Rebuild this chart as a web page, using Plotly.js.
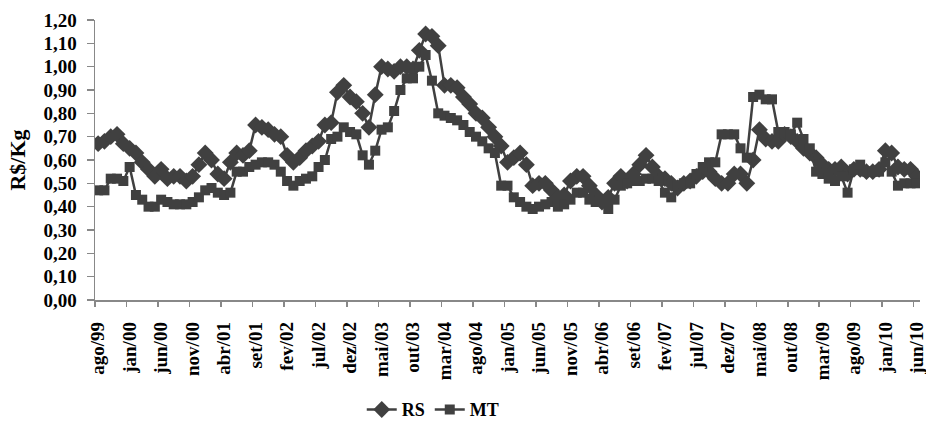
<!DOCTYPE html>
<html>
<head>
<meta charset="utf-8">
<script src="https://cdn.plot.ly/plotly-3.0.1.min.js"></script>
<style>html,body{margin:0;padding:0;background:#fff;}#chart{width:926px;height:425px;}</style>
</head>
<body>
<div id="chart"></div>
<script>
const tickLabels = ["ago/99","jan/00","jun/00","nov/00","abr/01","set/01","fev/02","jul/02","dez/02","mai/03","out/03","mar/04","ago/04","jan/05","jun/05","nov/05","abr/06","set/06","fev/07","jul/07","dez/07","mai/08","out/08","mar/09","ago/09","jan/10","jun/10"];

const rs = [
0.67,0.68,0.70,0.71,0.67,0.65,0.63,0.59,0.56,0.53,
0.56,0.52,0.53,0.53,0.51,0.53,0.58,0.63,0.60,0.54,
0.52,0.59,0.63,0.62,0.64,0.75,0.74,0.73,0.71,0.70,
0.62,0.59,0.61,0.64,0.66,0.68,0.75,0.76,0.89,0.92,
0.87,0.85,0.80,0.74,0.88,1.00,0.99,0.98,1.00,1.00,
0.99,1.07,1.14,1.13,1.09,0.92,0.92,0.91,0.87,0.84,
0.80,0.78,0.74,0.70,0.66,0.59,0.61,0.63,0.58,0.49,
0.50,0.50,0.47,0.44,0.45,0.51,0.53,0.53,0.49,0.45,
0.42,0.44,0.50,0.53,0.51,0.54,0.58,0.62,0.57,0.53,
0.52,0.50,0.48,0.50,0.51,0.53,0.55,0.55,0.52,0.50,
0.50,0.54,0.54,0.50,0.60,0.73,0.69,0.68,0.68,0.71,
0.70,0.68,0.65,0.63,0.61,0.58,0.56,0.56,0.57,0.54,
0.56,0.56,0.55,0.55,0.56,0.64,0.63,0.57,0.56,0.56,
0.53];

const mt = [
0.47,0.47,0.52,0.52,0.51,0.57,0.45,0.43,0.40,0.40,
0.43,0.42,0.41,0.41,0.41,0.42,0.44,0.47,0.48,0.46,
0.45,0.46,0.55,0.55,0.57,0.58,0.59,0.59,0.58,0.55,
0.51,0.49,0.51,0.52,0.53,0.57,0.60,0.69,0.70,0.74,
0.72,0.71,0.62,0.58,0.64,0.73,0.74,0.81,0.90,0.95,
0.95,1.00,1.05,0.94,0.80,0.79,0.78,0.77,0.75,0.72,
0.70,0.68,0.65,0.63,0.49,0.49,0.44,0.42,0.40,0.39,
0.40,0.41,0.42,0.40,0.41,0.43,0.46,0.46,0.43,0.42,
0.42,0.39,0.43,0.49,0.50,0.51,0.51,0.52,0.52,0.51,
0.46,0.44,0.49,0.50,0.50,0.54,0.57,0.59,0.59,0.71,
0.71,0.71,0.65,0.61,0.87,0.88,0.86,0.86,0.72,0.72,
0.71,0.76,0.69,0.65,0.55,0.54,0.52,0.51,0.53,0.46,
0.56,0.58,0.55,0.55,0.55,0.59,0.55,0.49,0.50,0.50,
0.50];

const idx = rs.map((_, i) => i);
const labelPos = tickLabels.map((_, i) => i * 5);
const boundaryPos = [];
for (let i = 0; i <= tickLabels.length; i++) boundaryPos.push(i * 5 - 0.5);

const col = '#404040';
const traces = [
  {x: idx, y: rs, name: 'RS', type: 'scatter', mode: 'lines+markers',
   line: {color: col, width: 2.5},
   marker: {symbol: 'diamond', size: 13, color: col}},
  {x: idx, y: mt, name: 'MT', type: 'scatter', mode: 'lines+markers',
   line: {color: col, width: 2.5},
   marker: {symbol: 'square', size: 10, color: col}}
];

const fam = '"Liberation Serif", "Times New Roman", serif';
const layout = {
  width: 926, height: 425,
  margin: {l: 95, r: 6, t: 20, b: 125, autoexpand: false},
  paper_bgcolor: '#fff', plot_bgcolor: '#fff',
  separators: ',.',
  showlegend: true,
  font: {family: fam, color: '#000'},
  xaxis: {
    range: [-0.5, 130.5],
    tickmode: 'array', tickvals: labelPos, ticktext: tickLabels,
    tickangle: -90,
    ticklabeloverflow: 'allow',
    automargin: false,
    ticks: 'outside', ticklen: 13, tickcolor: 'rgba(0,0,0,0)',
    tickfont: {family: fam, size: 19, color: '#000', weight: 'bold'},
    showline: true, linecolor: '#888888', linewidth: 1.5,
    showgrid: false, zeroline: false,
    minor: {tickmode: 'array', tickvals: boundaryPos, ticks: 'outside', ticklen: 5, tickcolor: '#888888', tickwidth: 1.5, showgrid: false}
  },
  yaxis: {
    range: [0, 1.2], dtick: 0.1, tick0: 0, tickformat: '.2f',
    automargin: false,
    ticks: 'outside', ticklen: 7, tickcolor: '#888888', tickwidth: 1.5,
    ticklabelstandoff: 6,
    tickfont: {family: fam, size: 19, color: '#000', weight: 'bold'},
    showline: true, linecolor: '#888888', linewidth: 1.5,
    showgrid: false, zeroline: false,
    title: {text: 'R$/Kg', font: {family: fam, size: 22, color: '#000', weight: 'bold'}, standoff: 12}
  },
  legend: {
    orientation: 'h', x: 0.41, xanchor: 'center', y: -0.392, yanchor: 'middle',
    font: {family: fam, size: 18, color: '#000', weight: 'bold'},
    itemwidth: 30, tracegroupgap: 0
  }
};

Plotly.newPlot('chart', traces, layout, {displayModeBar: false, staticPlot: true});
</script>
</body>
</html>
